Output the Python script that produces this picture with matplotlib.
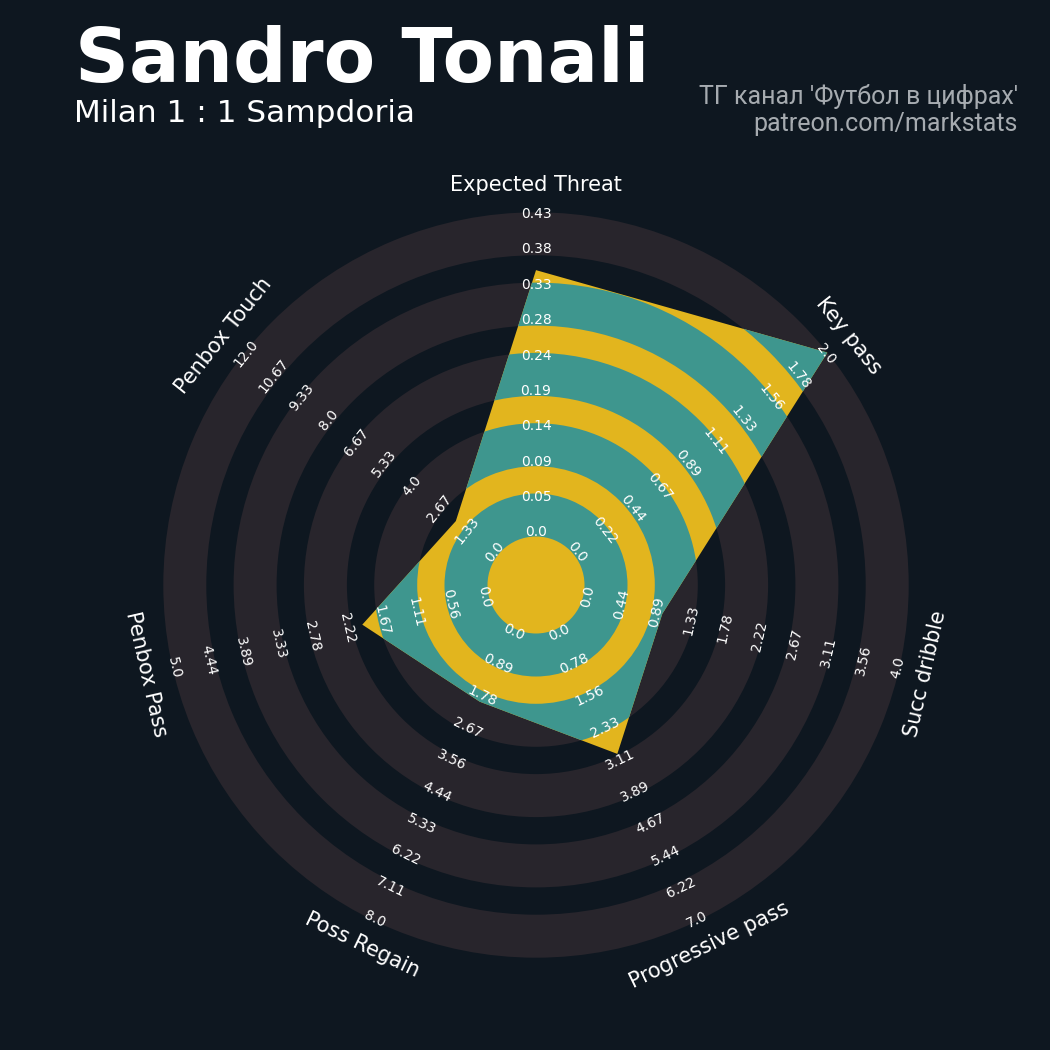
import numpy as np
import matplotlib
matplotlib.use("Agg")
import matplotlib.pyplot as plt
from matplotlib.patches import Wedge, Polygon

# Radar data
params = ["Expected Threat", "Key pass", "Succ dribble", "Progressive pass",
          "Poss Regain", "Penbox Pass", "Penbox Touch"]
low = [0, 0, 0, 0, 0, 0, 0]
high = [0.426, 2, 4, 7, 8, 5, 12]
values = [0.35, 2, 1, 3, 2, 2, 2]

title = "Sandro Tonali"
subtitle = "Milan 1 : 1 Sampdoria"
credit_lines = ["ТГ канал 'Футбол в цифрах'", "patreon.com/markstats"]

# colours
bg = "#0e1720"
ring_gray = "#28252c"
yellow = "#e2b51e"
teal = "#3e968e"
credit_color = "#a6abb0"

# geometry, 1 data unit = 1 pixel
cx, cy = 536, 585
r0 = 48.5          # center circle
ring_step = 70.3
ring_w = 43
num_rings = 5
r_max = r0 + ring_step * (num_rings - 1) + ring_w
n_labels = 10
label_r0, label_r1 = 52.5, 371   # range labels sit slightly inside
param_r = 400

fig = plt.figure(figsize=(10.5, 10.5), dpi=100, facecolor=bg)
ax = fig.add_axes([0, 0, 1, 1])
ax.set_xlim(-cx, 1050 - cx)
ax.set_ylim(-(1050 - cy), cy)
ax.set_aspect("equal")
ax.axis("off")
ax.set_facecolor(bg)

# background rings
for i in range(num_rings):
    r_in = r0 + i * ring_step
    ax.add_patch(Wedge((0, 0), r_in + ring_w, 0, 360, width=ring_w,
                       facecolor=ring_gray, edgecolor="none", zorder=1))

n = len(params)
angles = np.deg2rad(90 - np.arange(n) * 360 / n)
lo = np.array(low, dtype=float)
hi = np.array(high, dtype=float)
radii = r0 + (np.array(values) - lo) / (hi - lo) * (r_max - r0)
verts = np.column_stack([radii * np.cos(angles), radii * np.sin(angles)])

poly = Polygon(verts, closed=True, facecolor=yellow, edgecolor="none", zorder=2)
ax.add_patch(poly)

# rings inside the radar polygon
for i in range(num_rings):
    r_in = r0 + i * ring_step
    w = Wedge((0, 0), r_in + ring_w, 0, 360, width=ring_w,
              facecolor=teal, edgecolor="none", zorder=3)
    ax.add_patch(w)
    w.set_clip_path(poly)

# range labels and param labels
for i in range(n):
    a = angles[i]
    deg = np.rad2deg(a)
    if np.sin(a) >= -1e-9:
        rot = deg - 90
    else:
        rot = deg + 90
    ticks = np.linspace(lo[i], hi[i], n_labels)
    for k, t in enumerate(ticks):
        r = label_r0 + k * (label_r1 - label_r0) / (n_labels - 1)
        ax.text(r * np.cos(a), r * np.sin(a), str(round(float(t), 2)),
                rotation=rot, rotation_mode="anchor", ha="center", va="center",
                fontsize=10, color="white", zorder=5)
    ax.text(param_r * np.cos(a), param_r * np.sin(a), params[i],
            rotation=rot, rotation_mode="anchor", ha="center", va="center",
            fontsize=15, color="white", zorder=5)

# titles
fig.text(75 / 1050, 1 - 82 / 1050, title, fontsize=54, fontweight="bold",
         color="white", va="baseline", ha="left")
fig.text(74 / 1050, 1 - 122 / 1050, subtitle, fontsize=22.4,
         color="white", va="baseline", ha="left")
fig.text(1018 / 1050, 1 - 104 / 1050, credit_lines[0], fontsize=18,
         family=["Roboto", "DejaVu Sans"], color=credit_color,
         va="baseline", ha="right")
fig.text(1018 / 1050, 1 - 131 / 1050, credit_lines[1], fontsize=18,
         family=["Roboto", "DejaVu Sans"], color=credit_color,
         va="baseline", ha="right")

fig.savefig("out.png", dpi=100, facecolor=bg)
